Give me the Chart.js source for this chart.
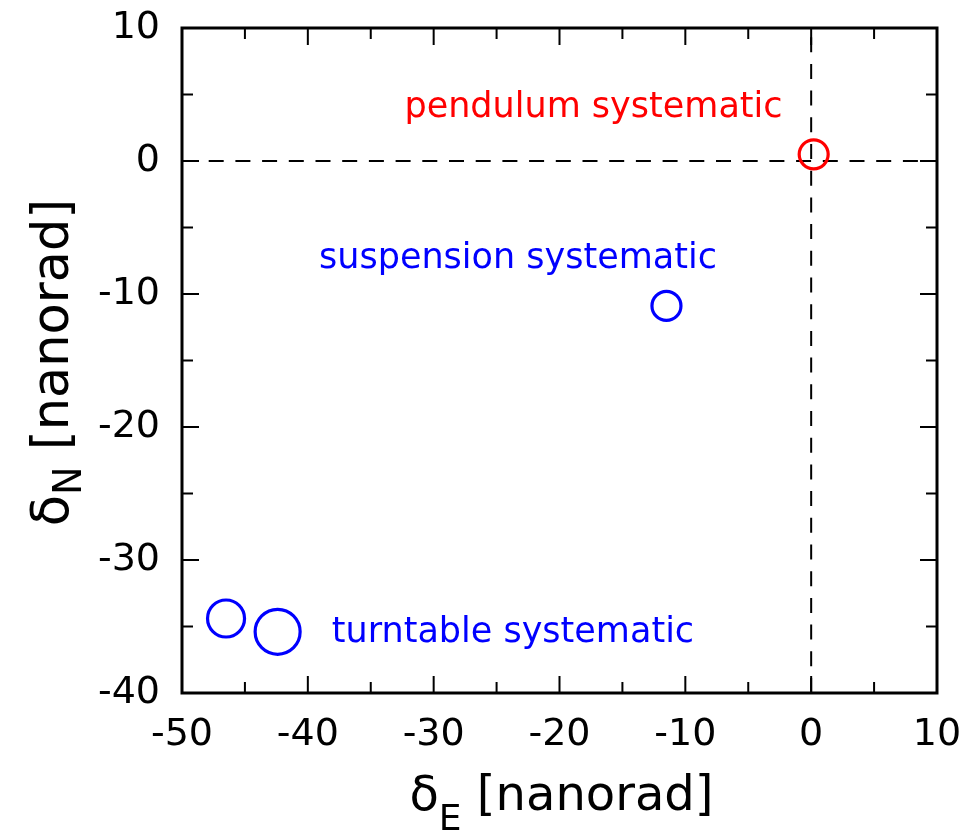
<!DOCTYPE html>
<html>
<head>
<meta charset="utf-8">
<script src="https://cdn.jsdelivr.net/npm/chart.js@4.4.0/dist/chart.umd.min.js"></script>
<style>
  html, body { margin: 0; padding: 0; background: #fff; }
  canvas { display: block; }
</style>
</head>
<body>
<canvas id="chartScatter" width="965" height="831"></canvas>
<script>
// values (nanorad)
let pendulumE = [0.2];
let pendulumN = [0.5];
let suspensionE = [-11.5];
let suspensionN = [-10.9];
let turntableE = [-46.5, -42.4];
let turntableN = [-34.4, -35.4];

let xTicks = [-50, -40, -30, -20, -10, 0, 10];
let yTicks = [-40, -30, -20, -10, 0, 10];
let xMinorTicks = [-45, -35, -25, -15, -5, 5];
let yMinorTicks = [-35, -25, -15, -5, 5];

let labelTexts = ["pendulum systematic", "suspension systematic", "turntable systematic"];
let labelE = [-17.3, -23.3, -23.7];
let labelN = [3.3, -8.05, -36.2];
let labelColors = ["#ff0000", "#0000ff", "#0000ff"];

let fontName = "'DejaVu Sans', sans-serif";

function toPoints(xs, ys) {
  return xs.map((x, i) => ({ x: x, y: ys[i] }));
}

// draws "main" + subscript + rest centred on the current origin, baseline at 0
function drawTitle(ctx, main, sub, rest, size, subDrop) {
  let subSize = size * 0.75;
  ctx.font = size + "px " + fontName;
  let w1 = ctx.measureText(main).width;
  let w3 = ctx.measureText(rest).width;
  ctx.font = subSize + "px " + fontName;
  let w2 = ctx.measureText(sub).width;
  let x0 = -(w1 + w2 + w3) / 2;
  ctx.textAlign = "left";
  ctx.textBaseline = "alphabetic";
  ctx.font = size + "px " + fontName;
  ctx.fillText(main, x0, 0);
  ctx.fillText(rest, x0 + w1 + w2, 0);
  ctx.font = subSize + "px " + fontName;
  ctx.fillText(sub, x0 + w1, size * subDrop);
}

const framePlugin = {
  id: "frame",
  beforeDatasetsDraw(chart) {
    let ctx = chart.ctx;
    let area = chart.chartArea;
    let x = chart.scales.x;
    let y = chart.scales.y;
    ctx.save();
    ctx.strokeStyle = "#000";
    ctx.lineWidth = 2;
    ctx.setLineDash([15, 11.7]);
    let x0 = x.getPixelForValue(0);
    let y0 = y.getPixelForValue(0);
    ctx.beginPath();
    ctx.moveTo(area.left, y0);
    ctx.lineTo(area.right, y0);
    ctx.moveTo(x0, area.bottom);
    ctx.lineTo(x0, area.top);
    ctx.stroke();
    ctx.restore();
  },
  afterDatasetsDraw(chart) {
    let ctx = chart.ctx;
    let area = chart.chartArea;
    let x = chart.scales.x;
    let y = chart.scales.y;
    ctx.save();
    ctx.strokeStyle = "#000";
    ctx.lineWidth = 2;
    ctx.beginPath();
    function xTick(v, len) {
      let p = x.getPixelForValue(v);
      ctx.moveTo(p, area.bottom);
      ctx.lineTo(p, area.bottom - len);
      ctx.moveTo(p, area.top);
      ctx.lineTo(p, area.top + len);
    }
    function yTick(v, len) {
      let p = y.getPixelForValue(v);
      ctx.moveTo(area.left, p);
      ctx.lineTo(area.left + len, p);
      ctx.moveTo(area.right, p);
      ctx.lineTo(area.right - len, p);
    }
    xTicks.forEach((v) => xTick(v, 17));
    xMinorTicks.forEach((v) => xTick(v, 11));
    yTicks.forEach((v) => yTick(v, 17));
    yMinorTicks.forEach((v) => yTick(v, 11));
    ctx.stroke();

    ctx.lineWidth = 3;
    ctx.strokeRect(area.left, area.top, area.right - area.left, area.bottom - area.top);

    // text labels next to the points
    ctx.font = "35px " + fontName;
    ctx.textAlign = "center";
    ctx.textBaseline = "alphabetic";
    labelTexts.forEach((t, i) => {
      ctx.fillStyle = labelColors[i];
      ctx.fillText(t, x.getPixelForValue(labelE[i]), y.getPixelForValue(labelN[i]));
    });

    // axis titles with subscripts
    ctx.fillStyle = "#000";
    ctx.save();
    ctx.translate((area.left + area.right) / 2 + 2, 810);
    drawTitle(ctx, "δ", "E", " [nanorad]", 48, 0.42);
    ctx.restore();
    ctx.save();
    ctx.translate(68, (area.top + area.bottom) / 2 + 2);
    ctx.rotate(-Math.PI / 2);
    drawTitle(ctx, "δ", "N", " [nanorad]", 51, 0.25);
    ctx.restore();
    ctx.restore();
  },
};

let circleStyle = {
  backgroundColor: "rgba(0,0,0,0)",
  borderWidth: 3.2,
  pointStyle: "circle",
  pointHoverRadius: 0,
};

const configScatter = {
  type: "scatter",
  data: {
    datasets: [
      Object.assign({ label: "pendulum", data: toPoints(pendulumE, pendulumN), borderColor: "#ff0000", pointRadius: 14.5 }, circleStyle),
      Object.assign({ label: "suspension", data: toPoints(suspensionE, suspensionN), borderColor: "#0000ff", pointRadius: 14.5 }, circleStyle),
      Object.assign({ label: "turntable", data: toPoints(turntableE, turntableN), borderColor: "#0000ff", pointRadius: [18.5, 22.5] }, circleStyle),
    ],
  },
  options: {
    responsive: false,
    animation: false,
    devicePixelRatio: 1,
    layout: { padding: { top: 28, right: 28, left: 0, bottom: 0 } },
    plugins: {
      legend: { display: false },
      tooltip: { enabled: false },
    },
    scales: {
      x: {
        type: "linear",
        min: -50,
        max: 10,
        afterBuildTicks: (s) => { s.ticks = xTicks.map((v) => ({ value: v })); },
        afterFit: (s) => { s.height = 138; s.paddingLeft = 0; s.paddingRight = 0; },
        grid: { display: false, drawTicks: false },
        border: { display: false },
        ticks: { color: "#000", font: { family: fontName, size: 38 }, padding: 19, maxRotation: 0 },
      },
      y: {
        type: "linear",
        min: -40,
        max: 10,
        afterBuildTicks: (s) => { s.ticks = yTicks.map((v) => ({ value: v })); },
        afterFit: (s) => { s.width = 182; s.paddingTop = 0; s.paddingBottom = 0; },
        grid: { display: false, drawTicks: false },
        border: { display: false },
        ticks: { color: "#000", font: { family: fontName, size: 38 }, padding: 22 },
      },
    },
  },
  plugins: [framePlugin],
};

let chartScatter = new Chart(document.getElementById("chartScatter"), configScatter);
</script>
</body>
</html>
